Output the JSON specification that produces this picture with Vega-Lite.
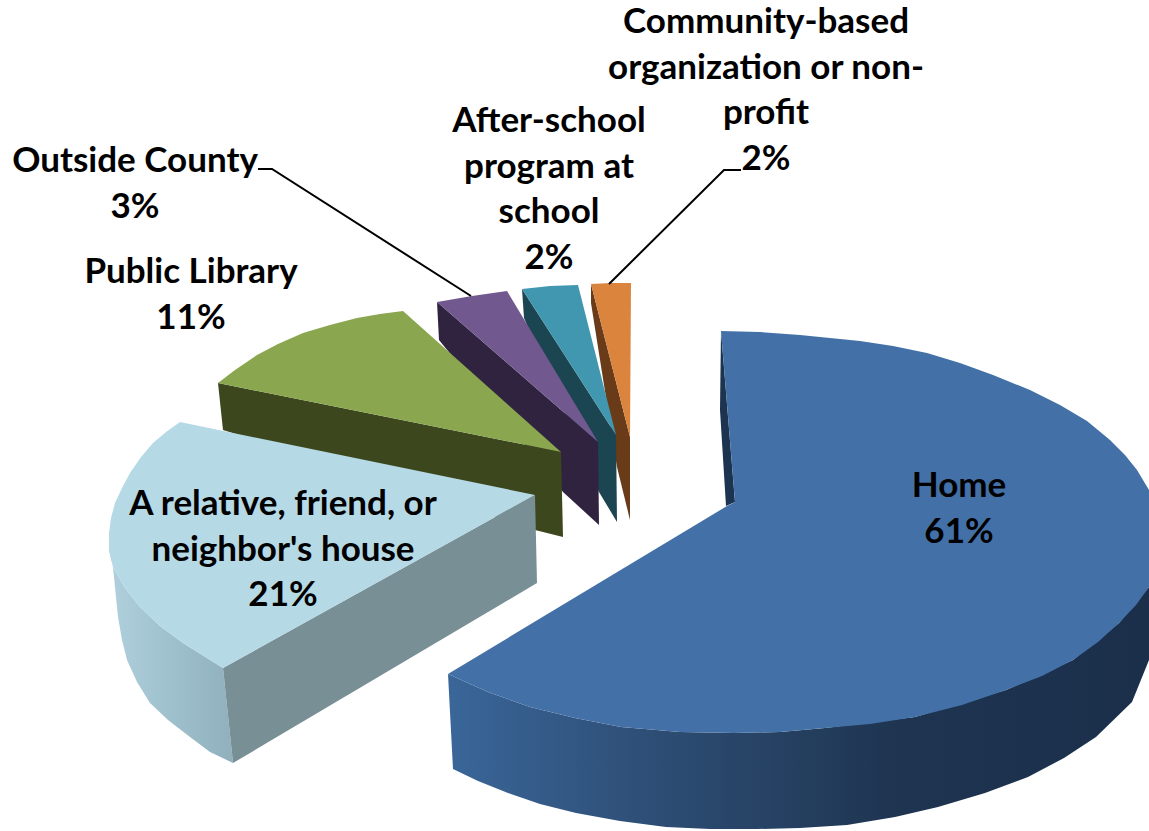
{
"$schema":"https://vega.github.io/schema/vega-lite/v6.json",
"width":1149,"height":831,"padding":0,"autosize":{"type":"fit","contains":"padding"},
"background":"white","view":{"stroke":null},
"datasets":{
"walls":[
{"part":"homeOuter","i":1,"x":448,"y":674},{"part":"homeOuter","i":2,"x":488,"y":692},{"part":"homeOuter","i":3,"x":530,"y":707},{"part":"homeOuter","i":4,"x":575,"y":718},{"part":"homeOuter","i":5,"x":621,"y":727},{"part":"homeOuter","i":6,"x":680,"y":732},{"part":"homeOuter","i":7,"x":734,"y":733},{"part":"homeOuter","i":8,"x":780,"y":732},{"part":"homeOuter","i":9,"x":825,"y":728},{"part":"homeOuter","i":10,"x":915,"y":717},{"part":"homeOuter","i":11,"x":1006,"y":690},{"part":"homeOuter","i":12,"x":1073,"y":660},{"part":"homeOuter","i":13,"x":1119,"y":623},{"part":"homeOuter","i":14,"x":1149,"y":587},{"part":"homeOuter","i":15,"x":1149,"y":660},{"part":"homeOuter","i":16,"x":1132,"y":702},{"part":"homeOuter","i":17,"x":1096,"y":737},{"part":"homeOuter","i":18,"x":1064,"y":758},{"part":"homeOuter","i":19,"x":1028,"y":777},{"part":"homeOuter","i":20,"x":985,"y":793},{"part":"homeOuter","i":21,"x":938,"y":807},{"part":"homeOuter","i":22,"x":895,"y":817},{"part":"homeOuter","i":23,"x":847,"y":825},{"part":"homeOuter","i":24,"x":800,"y":828},{"part":"homeOuter","i":25,"x":757,"y":829},{"part":"homeOuter","i":26,"x":710,"y":829},{"part":"homeOuter","i":27,"x":666,"y":827},{"part":"homeOuter","i":28,"x":620,"y":821},{"part":"homeOuter","i":29,"x":576,"y":813},{"part":"homeOuter","i":30,"x":540,"y":804},{"part":"homeOuter","i":31,"x":508,"y":793},{"part":"homeOuter","i":32,"x":478,"y":781},{"part":"homeOuter","i":33,"x":453,"y":769},
{"part":"relOuter","i":1,"x":109,"y":533},{"part":"relOuter","i":2,"x":109,"y":550},{"part":"relOuter","i":3,"x":113,"y":567},{"part":"relOuter","i":4,"x":125,"y":588},{"part":"relOuter","i":5,"x":140,"y":607},{"part":"relOuter","i":6,"x":160,"y":626},{"part":"relOuter","i":7,"x":183,"y":643},{"part":"relOuter","i":8,"x":223,"y":668},{"part":"relOuter","i":9,"x":233,"y":763},{"part":"relOuter","i":10,"x":210,"y":752},{"part":"relOuter","i":11,"x":190,"y":737},{"part":"relOuter","i":12,"x":168,"y":720},{"part":"relOuter","i":13,"x":150,"y":703},{"part":"relOuter","i":14,"x":137,"y":682},{"part":"relOuter","i":15,"x":127,"y":660},{"part":"relOuter","i":16,"x":122,"y":640},{"part":"relOuter","i":17,"x":118,"y":617},{"part":"relOuter","i":18,"x":114,"y":577}
],
"faces":[
{"part":"orangeWall","i":1,"x":591,"y":284},{"part":"orangeWall","i":2,"x":591,"y":303},{"part":"orangeWall","i":3,"x":617,"y":467},{"part":"orangeWall","i":4,"x":630,"y":520},{"part":"orangeWall","i":5,"x":630,"y":437},
{"part":"orangeTop","i":1,"x":591,"y":284},{"part":"orangeTop","i":2,"x":611,"y":283},{"part":"orangeTop","i":3,"x":631,"y":283},{"part":"orangeTop","i":4,"x":630,"y":437},
{"part":"tealWall","i":1,"x":522,"y":289},{"part":"tealWall","i":2,"x":524,"y":318},{"part":"tealWall","i":3,"x":599,"y":492},{"part":"tealWall","i":4,"x":617,"y":522},{"part":"tealWall","i":5,"x":616,"y":435},
{"part":"tealTop","i":1,"x":522,"y":289},{"part":"tealTop","i":2,"x":550,"y":286},{"part":"tealTop","i":3,"x":578,"y":285},{"part":"tealTop","i":4,"x":616,"y":435},
{"part":"purpleWall","i":1,"x":437,"y":302},{"part":"purpleWall","i":2,"x":439,"y":340},{"part":"purpleWall","i":3,"x":563,"y":492},{"part":"purpleWall","i":4,"x":599,"y":525},{"part":"purpleWall","i":5,"x":598,"y":442},
{"part":"purpleTop","i":1,"x":437,"y":302},{"part":"purpleTop","i":2,"x":472,"y":296},{"part":"purpleTop","i":3,"x":507,"y":291},{"part":"purpleTop","i":4,"x":598,"y":442},
{"part":"greenWall","i":1,"x":218,"y":383},{"part":"greenWall","i":2,"x":223,"y":430},{"part":"greenWall","i":3,"x":535,"y":530},{"part":"greenWall","i":4,"x":563,"y":537},{"part":"greenWall","i":5,"x":561,"y":452},
{"part":"greenTop","i":1,"x":218,"y":383},{"part":"greenTop","i":2,"x":235,"y":370},{"part":"greenTop","i":3,"x":257,"y":355},{"part":"greenTop","i":4,"x":278,"y":344},{"part":"greenTop","i":5,"x":303,"y":333},{"part":"greenTop","i":6,"x":330,"y":325},{"part":"greenTop","i":7,"x":357,"y":318},{"part":"greenTop","i":8,"x":380,"y":314},{"part":"greenTop","i":9,"x":403,"y":311},{"part":"greenTop","i":10,"x":561,"y":452},
{"part":"relWall","i":1,"x":223,"y":668},{"part":"relWall","i":2,"x":233,"y":763},{"part":"relWall","i":3,"x":537,"y":583},{"part":"relWall","i":4,"x":535,"y":495},
{"part":"relTop","i":1,"x":180,"y":422},{"part":"relTop","i":2,"x":166,"y":432},{"part":"relTop","i":3,"x":153,"y":443},{"part":"relTop","i":4,"x":141,"y":457},{"part":"relTop","i":5,"x":130,"y":473},{"part":"relTop","i":6,"x":122,"y":488},{"part":"relTop","i":7,"x":115,"y":503},{"part":"relTop","i":8,"x":111,"y":518},{"part":"relTop","i":9,"x":109,"y":533},{"part":"relTop","i":10,"x":109,"y":550},{"part":"relTop","i":11,"x":113,"y":567},{"part":"relTop","i":12,"x":125,"y":588},{"part":"relTop","i":13,"x":140,"y":607},{"part":"relTop","i":14,"x":160,"y":626},{"part":"relTop","i":15,"x":183,"y":643},{"part":"relTop","i":16,"x":223,"y":668},{"part":"relTop","i":17,"x":535,"y":495},
{"part":"homeInner","i":1,"x":721,"y":331},{"part":"homeInner","i":2,"x":720,"y":410},{"part":"homeInner","i":3,"x":726,"y":506},{"part":"homeInner","i":4,"x":735,"y":502},
{"part":"homeTop","i":1,"x":721,"y":331},{"part":"homeTop","i":2,"x":760,"y":332},{"part":"homeTop","i":3,"x":800,"y":335},{"part":"homeTop","i":4,"x":830,"y":338},{"part":"homeTop","i":5,"x":860,"y":341},{"part":"homeTop","i":6,"x":893,"y":346},{"part":"homeTop","i":7,"x":927,"y":353},{"part":"homeTop","i":8,"x":960,"y":363},{"part":"homeTop","i":9,"x":993,"y":375},{"part":"homeTop","i":10,"x":1030,"y":390},{"part":"homeTop","i":11,"x":1060,"y":405},{"part":"homeTop","i":12,"x":1087,"y":421},{"part":"homeTop","i":13,"x":1110,"y":440},{"part":"homeTop","i":14,"x":1125,"y":455},{"part":"homeTop","i":15,"x":1137,"y":470},{"part":"homeTop","i":16,"x":1149,"y":490},{"part":"homeTop","i":17,"x":1149,"y":587},{"part":"homeTop","i":18,"x":1136,"y":605},{"part":"homeTop","i":19,"x":1119,"y":623},{"part":"homeTop","i":20,"x":1098,"y":642},{"part":"homeTop","i":21,"x":1073,"y":660},{"part":"homeTop","i":22,"x":1042,"y":676},{"part":"homeTop","i":23,"x":1006,"y":690},{"part":"homeTop","i":24,"x":962,"y":705},{"part":"homeTop","i":25,"x":915,"y":717},{"part":"homeTop","i":26,"x":870,"y":724},{"part":"homeTop","i":27,"x":825,"y":728},{"part":"homeTop","i":28,"x":780,"y":732},{"part":"homeTop","i":29,"x":734,"y":733},{"part":"homeTop","i":30,"x":680,"y":732},{"part":"homeTop","i":31,"x":621,"y":727},{"part":"homeTop","i":32,"x":575,"y":718},{"part":"homeTop","i":33,"x":530,"y":707},{"part":"homeTop","i":34,"x":488,"y":692},{"part":"homeTop","i":35,"x":448,"y":674},{"part":"homeTop","i":36,"x":727,"y":506},{"part":"homeTop","i":37,"x":735,"y":502}
],
"leaders":[
{"slice":"Outside County","i":1,"x":258,"y":169},{"slice":"Outside County","i":2,"x":272,"y":169},{"slice":"Outside County","i":3,"x":471,"y":296},
{"slice":"Community-based organization or non-profit","i":1,"x":741,"y":170},{"slice":"Community-based organization or non-profit","i":2,"x":724,"y":170},{"slice":"Community-based organization or non-profit","i":3,"x":609,"y":284}
],
"labels":[
{"slice":"Home","value":61,"label":"Home\n61%","x":959,"y":486},
{"slice":"A relative, friend, or neighbor's house","value":21,"label":"A relative, friend, or\nneighbor's house\n21%","x":283,"y":504},
{"slice":"Public Library","value":11,"label":"Public Library\n11%","x":191,"y":272},
{"slice":"Outside County","value":3,"label":"Outside County\n3%","x":135,"y":161},
{"slice":"After-school program at school","value":2,"label":"After-school\nprogram at\nschool\n2%","x":549,"y":121},
{"slice":"Community-based organization or non-profit","value":2,"label":"Community-based\norganization or non-\nprofit\n2%","x":766,"y":22}
]
},
"encoding":{
"x":{"field":"x","type":"quantitative","scale":{"domain":[0,1149],"nice":false,"zero":false},"axis":null},
"y":{"field":"y","type":"quantitative","scale":{"domain":[831,0],"nice":false,"zero":false},"axis":null}
},
"layer":[
{"data":{"name":"walls"},"transform":[{"filter":"datum.part==='homeOuter'"}],
 "mark":{"type":"line","strokeWidth":0,"stroke":"transparent","fill":{"gradient":"linear","x1":0,"x2":1,"y1":0,"y2":0,"stops":[{"offset":0,"color":"#3a6699"},{"offset":0.3,"color":"#2d4d74"},{"offset":0.65,"color":"#1e3450"},{"offset":1,"color":"#1b2f4b"}]}},
 "encoding":{"order":{"field":"i","type":"quantitative"}}},
{"data":{"name":"walls"},"transform":[{"filter":"datum.part==='relOuter'"}],
 "mark":{"type":"line","strokeWidth":0,"stroke":"transparent","fill":{"gradient":"linear","x1":0,"x2":1,"y1":0,"y2":0,"stops":[{"offset":0,"color":"#afd0dc"},{"offset":0.45,"color":"#a0c1ce"},{"offset":1,"color":"#90b0bd"}]}},
 "encoding":{"order":{"field":"i","type":"quantitative"}}},
{"data":{"name":"faces"},
 "mark":{"type":"line","strokeWidth":0,"stroke":"transparent"},
 "encoding":{"order":{"field":"i","type":"quantitative"},
  "fill":{"field":"part","type":"nominal","legend":null,"sort":null,"scale":{
   "domain":["orangeWall","orangeTop","tealWall","tealTop","purpleWall","purpleTop","greenWall","greenTop","relWall","relTop","homeInner","homeTop"],
   "range":["#693b18","#db843d","#1c4552","#4197b0","#2f2340","#71588f","#3c471d","#8aa64e","#798f96","#b6d9e6","#1c3450","#4371a7"]}}}},
{"data":{"name":"leaders"},
 "mark":{"type":"line","color":"#000000","strokeWidth":2},
 "encoding":{"order":{"field":"i","type":"quantitative"},"detail":{"field":"slice"}}},
{"data":{"name":"labels"},
 "mark":{"type":"text","font":"Lato","fontWeight":"bold","fontSize":35,"lineBreak":"\n","lineHeight":45.5,"align":"center","baseline":"middle","color":"#000000"},
 "encoding":{"text":{"field":"label","type":"nominal"}}}
]
}
